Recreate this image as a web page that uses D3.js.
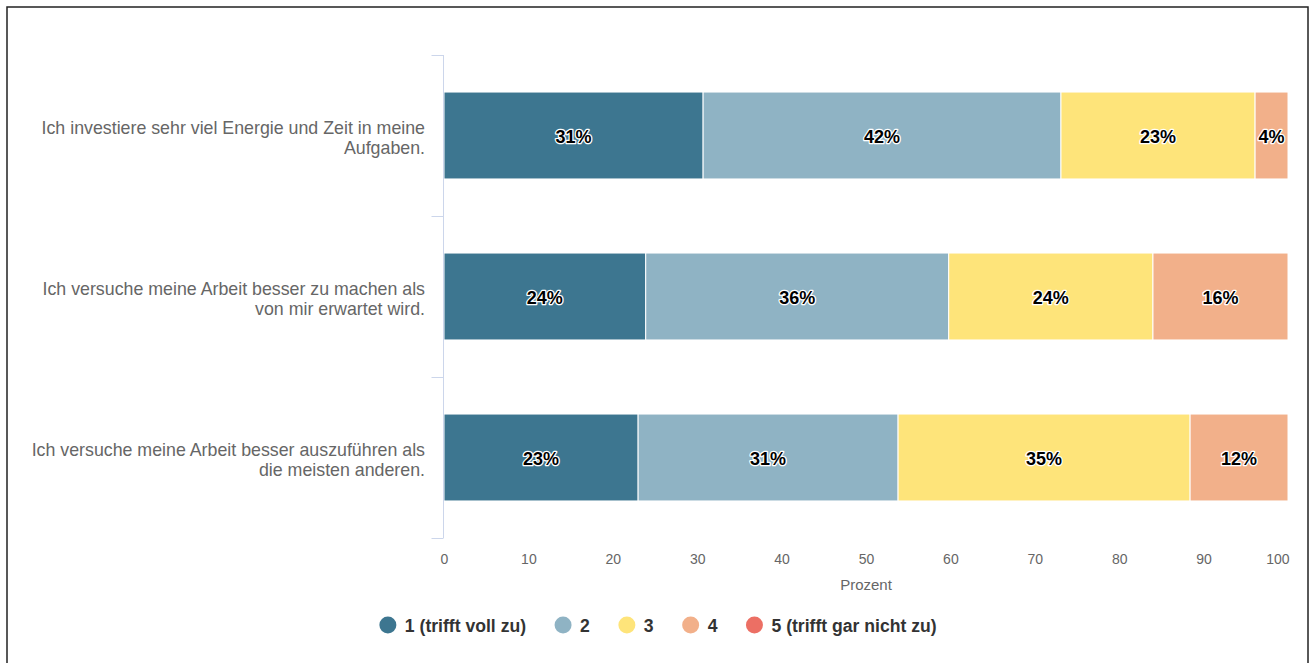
<!DOCTYPE html>
<html>
<head>
<meta charset="utf-8">
<script src="https://cdn.jsdelivr.net/npm/d3@7"></script>
<style>
  body { margin: 0; background: #fff; }
  svg { display: block; font-family: "Liberation Sans", Arial, sans-serif; }
</style>
</head>
<body>
<script>
// Werte (Prozent je Antwortstufe)
var categories = [
    "Ich investiere sehr viel Energie und Zeit in meine Aufgaben.",
    "Ich versuche meine Arbeit besser zu machen als von mir erwartet wird.",
    "Ich versuche meine Arbeit besser auszuführen als die meisten anderen."
];
var seriesNames = ["1 (trifft voll zu)", "2", "3", "4", "5 (trifft gar nicht zu)"];
var s1 = [30.7, 23.9, 23.0];
var s2 = [42.4, 35.9, 30.8];
var s3 = [23.0, 24.2, 34.6];
var s4 = [3.9, 16.0, 11.6];
var s5 = [0, 0, 0];
var xTicks = [0, 10, 20, 30, 40, 50, 60, 70, 80, 90, 100];
var colors = ["#3d7690", "#8fb3c4", "#fee47a", "#f2b08a", "#ec6f64"];

var width = 1310, height = 663;
var margin = {top: 55, right: 22, bottom: 125, left: 444};

var svg = d3.select("body")
    .append("svg")
    .attr("width", width)
    .attr("height", height);

// Rahmen
svg.append("rect")
    .attr("x", 7).attr("y", 7)
    .attr("width", 1301).attr("height", 700)
    .attr("fill", "none")
    .attr("stroke", "#222")
    .attr("stroke-width", 1.5);

var values = [s1, s2, s3, s4, s5];
var rows = categories.map(function(c, i) {
    var r = {cat: c};
    seriesNames.forEach(function(n, k) { r[n] = values[k][i]; });
    return r;
});
var stacked = d3.stack().keys(seriesNames)(rows);

var xscale = d3.scaleLinear()
    .domain([0, 100])
    .range([margin.left, width - margin.right]);

var yscale = d3.scaleBand()
    .domain(categories)
    .range([margin.top, height - margin.bottom]);

var barH = yscale.bandwidth() * 0.54;

// Balken
var layer = svg.append("g").selectAll("g")
    .data(stacked)
    .join("g")
    .attr("fill", (d, i) => colors[i]);

layer.selectAll("rect")
    .data(d => d.filter(p => p[1] - p[0] > 0))
    .join("rect")
    .attr("x", d => xscale(d[0]))
    .attr("y", d => yscale(d.data.cat) + (yscale.bandwidth() - barH) / 2)
    .attr("width", d => xscale(d[1]) - xscale(d[0]))
    .attr("height", barH)
    .attr("stroke", "#fff")
    .attr("stroke-width", 1);

// Datenbeschriftungen
layer.selectAll("text")
    .data(d => d.filter(p => p[1] - p[0] > 0))
    .join("text")
    .attr("x", d => (xscale(d[0]) + xscale(d[1])) / 2)
    .attr("y", d => yscale(d.data.cat) + yscale.bandwidth() / 2 + 7.5)
    .attr("text-anchor", "middle")
    .attr("font-size", "18px")
    .attr("font-weight", "bold")
    .attr("fill", "#000")
    .attr("stroke", "#fff")
    .attr("stroke-width", 2.5)
    .attr("stroke-linejoin", "round")
    .attr("paint-order", "stroke")
    .text(d => Math.round(d[1] - d[0]) + "%");

// y-Achse
var yAxis = svg.append("g")
    .attr("transform", `translate(${margin.left - 0.5},0)`);
yAxis.append("line")
    .attr("y1", margin.top).attr("y2", height - margin.bottom)
    .attr("stroke", "#ccd6eb");
var bounds = categories.map(c => yscale(c)).concat([height - margin.bottom]);
yAxis.selectAll(".tick")
    .data(bounds)
    .join("line")
    .attr("x1", -12).attr("x2", 0)
    .attr("y1", d => Math.round(d) + 0.5).attr("y2", d => Math.round(d) + 0.5)
    .attr("stroke", "#ccd6eb");

// Kategorien mit Zeilenumbruch
categories.forEach(function(c) {
    var t = svg.append("text")
        .attr("text-anchor", "end")
        .attr("font-size", "17.8px")
        .attr("fill", "#666");
    var words = c.split(" "), lines = [], line = [];
    words.forEach(function(w) {
        line.push(w);
        t.text(line.join(" "));
        if (t.node().getComputedTextLength() > 402 && line.length > 1) {
            line.pop();
            lines.push(line.join(" "));
            line = [w];
        }
    });
    lines.push(line.join(" "));
    t.text(null);
    var cy = yscale(c) + yscale.bandwidth() / 2;
    lines.forEach(function(l, i) {
        t.append("tspan")
            .attr("x", 425)
            .attr("y", cy - 2 + i * 20 - (lines.length - 2) * 10)
            .text(l);
    });
});

// x-Achse
var xAxis = svg.append("g")
    .attr("transform", `translate(0,${height - margin.bottom})`)
    .call(d3.axisBottom(xscale).tickValues(xTicks).tickSize(0).tickPadding(16));
xAxis.select(".domain").remove();
xAxis.selectAll("text")
    .attr("font-size", "14px")
    .attr("font-family", "Liberation Sans, Arial, sans-serif")
    .attr("fill", "#666");
xAxis.selectAll(".tick:last-of-type text")
    .attr("text-anchor", "end")
    .attr("dx", "1px");

svg.append("text")
    .attr("x", (xscale(0) + xscale(100)) / 2)
    .attr("y", 590)
    .attr("text-anchor", "middle")
    .attr("font-size", "15px")
    .attr("fill", "#666")
    .text("Prozent");

// Legende
var legend = svg.append("g");
var lx = 0;
seriesNames.forEach(function(n, i) {
    var item = legend.append("g").attr("transform", `translate(${lx},0)`);
    item.append("circle")
        .attr("cx", 8.5).attr("cy", 0).attr("r", 8.5)
        .attr("fill", colors[i]);
    var t = item.append("text")
        .attr("x", 25.5).attr("y", 6.5)
        .attr("font-size", "17.6px")
        .attr("font-weight", "bold")
        .attr("fill", "#333")
        .text(n);
    lx += 25.5 + t.node().getComputedTextLength() + 28.5;
});
lx -= 28.5;
legend.attr("transform", `translate(${(width - lx) / 2 + 3},625)`);
</script>
</body>
</html>
